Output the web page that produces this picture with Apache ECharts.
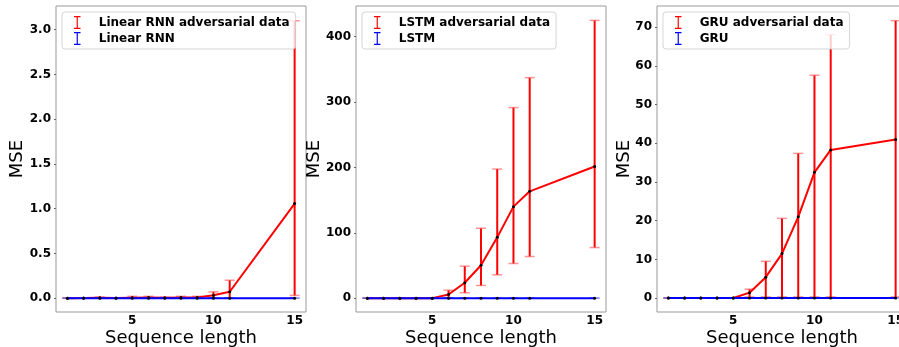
<!DOCTYPE html>
<html>
<head>
<meta charset="utf-8">
<script src="https://cdn.jsdelivr.net/npm/echarts@6/dist/echarts.min.js"></script>
<style>
  html, body { margin: 0; padding: 0; background: #fff; }
  #chart { width: 899px; height: 347px; }
</style>
</head>
<body>
<div id="chart"></div>
<script>
// sequence lengths used in every panel
const seqLen = [1, 2, 3, 4, 5, 6, 7, 8, 9, 10, 11, 15];

// Linear RNN
const rnnAdvMean = [0.0, 0.001, 0.004, 0.002, 0.005, 0.006, 0.004, 0.006, 0.008, 0.033, 0.071, 1.057];
const rnnAdvLow  = [0, 0, 0, 0, 0, 0, 0, 0, 0, 0, 0, 0.03];
const rnnAdvHigh = [0.001, 0.003, 0.012, 0.004, 0.02, 0.02, 0.01, 0.02, 0.02, 0.07, 0.2, 3.10];
const rnnMean    = [0, 0, 0, 0, 0, 0, 0, 0, 0, 0, 0, 0];
const rnnLow     = [0, 0, 0, 0, 0, 0, 0, 0, 0, 0, 0, 0];
const rnnHigh    = [0.001, 0.001, 0.001, 0.001, 0.001, 0.001, 0.001, 0.001, 0.001, 0.001, 0.001, 0.001];

// LSTM
const lstmAdvMean = [0, 0, 0, 0, 0, 5.6, 23.5, 50.4, 93, 140, 163.4, 201.5];
const lstmAdvLow  = [0, 0, 0, 0, 0, 0, 8.2, 19.4, 35.7, 53, 63.7, 77.4];
const lstmAdvHigh = [0, 0, 0, 0, 0, 12.2, 48.9, 106.9, 197.5, 291.6, 337.4, 425];
const lstmMean    = [0, 0, 0, 0, 0, 0, 0, 0, 0, 0, 0, 0];
const lstmLow     = [0, 0, 0, 0, 0, 0, 0, 0, 0, 0, 0, 0];
const lstmHigh    = [0.2, 0.2, 0.2, 0.2, 0.2, 0.2, 0.2, 0.2, 0.2, 0.2, 0.2, 0.2];

// GRU
const gruAdvMean = [0, 0, 0, 0, 0, 1.4, 5.4, 11.5, 21.0, 32.5, 38.3, 41.0];
const gruAdvLow  = [0, 0, 0, 0, 0, 0.3, 0.3, 0.3, 0.3, 0.3, 0.3, 0.3];
const gruAdvHigh = [0, 0, 0, 0, 0, 2.3, 9.5, 20.6, 37.4, 57.6, 68.1, 71.7];
const gruMean    = [0, 0, 0, 0, 0, 0, 0, 0, 0, 0, 0, 0];
const gruLow     = [0, 0, 0, 0, 0, 0, 0, 0, 0, 0, 0, 0];
const gruHigh    = [0.05, 0.05, 0.05, 0.05, 0.05, 0.05, 0.05, 0.05, 0.05, 0.05, 0.05, 0.05];

const xTicks = [5, 10, 15];
const rnnTicks = [0, 0.5, 1.0, 1.5, 2.0, 2.5, 3.0];
const lstmTicks = [0, 100, 200, 300, 400];
const gruTicks = [0, 10, 20, 30, 40, 50, 60, 70];

const panels = [
  { left: 56, name: 'Linear RNN', adv: [rnnAdvMean, rnnAdvLow, rnnAdvHigh], clean: [rnnMean, rnnLow, rnnHigh],
    ymin: -0.155, ymax: 3.265, ticks: rnnTicks, dec: 1, nameGap: 30 },
  { left: 356, name: 'LSTM', adv: [lstmAdvMean, lstmAdvLow, lstmAdvHigh], clean: [lstmMean, lstmLow, lstmHigh],
    ymin: -21.2, ymax: 447, ticks: lstmTicks, dec: 0, nameGap: 33 },
  { left: 657, name: 'GRU', adv: [gruAdvMean, gruAdvLow, gruAdvHigh], clean: [gruMean, gruLow, gruHigh],
    ymin: -3.6, ymax: 75.5, ticks: gruTicks, dec: 0, nameGap: 24 }
];

const FONT = 'DejaVu Sans';
const errIcon = 'path://M0,0 L10,0 L10,1.8 L5.9,1.8 L5.9,18.2 L10,18.2 L10,20 L0,20 L0,18.2 L4.1,18.2 L4.1,1.8 L0,1.8 Z';

function errorSeries(idx, name, lows, highs, color, capColor, z) {
  return {
    name: name,
    type: 'custom',
    xAxisIndex: idx,
    yAxisIndex: idx,
    z: z,
    clip: false,
    data: seqLen.map((x, i) => [x, lows[i], highs[i]]),
    renderItem: function (params, api) {
      const lo = api.coord([api.value(0), api.value(1)]);
      const hi = api.coord([api.value(0), api.value(2)]);
      const w = 5;
      return {
        type: 'group',
        children: [
          { type: 'line', shape: { x1: lo[0], y1: lo[1], x2: hi[0], y2: hi[1] },
            style: { stroke: color, lineWidth: 2 } },
          { type: 'line', shape: { x1: hi[0] - w, y1: hi[1], x2: hi[0] + w, y2: hi[1] },
            style: { stroke: capColor, lineWidth: 1.5 } },
          { type: 'line', shape: { x1: lo[0] - w, y1: lo[1], x2: lo[0] + w, y2: lo[1] },
            style: { stroke: capColor, lineWidth: 1.5 } }
        ]
      };
    }
  };
}

function lineSeries(idx, name, values, color, z) {
  return {
    name: name,
    type: 'line',
    xAxisIndex: idx,
    yAxisIndex: idx,
    z: z,
    data: seqLen.map((x, i) => [x, values[i]]),
    symbol: 'circle',
    symbolSize: 3,
    showSymbol: true,
    itemStyle: { color: '#000', borderWidth: 0 },
    lineStyle: { color: color, width: 2 },
    animation: false
  };
}

const grid = [], xAxis = [], yAxis = [], series = [], legend = [];

panels.forEach((p, i) => {
  grid.push({ left: p.left, top: 6, width: 250, height: 306, show: true, borderColor: '#999', borderWidth: 1,
    outerBoundsMode: 'none', containLabel: false });
  xAxis.push({
    type: 'value', gridIndex: i, min: 0.3, max: 15.7,
    name: 'Sequence length', nameLocation: 'middle', nameGap: 17, nameMoveOverlap: false,
    nameTextStyle: { fontFamily: FONT, fontSize: 18, color: '#000', verticalAlign: 'top' },
    axisLine: { show: false }, splitLine: { show: false },
    axisTick: { show: false, customValues: xTicks },
    axisLabel: { customValues: xTicks, fontFamily: FONT, fontWeight: 'bold', fontSize: 12, color: '#000', margin: 3 }
  });
  yAxis.push({
    type: 'value', gridIndex: i, min: p.ymin, max: p.ymax,
    name: 'MSE', nameLocation: 'middle', nameGap: p.nameGap, nameRotate: 90, nameMoveOverlap: false,
    nameTextStyle: { fontFamily: FONT, fontSize: 18, color: '#000' },
    axisLine: { show: false }, splitLine: { show: false },
    axisTick: { show: true, length: 2, customValues: p.ticks, lineStyle: { color: '#666' } },
    axisLabel: { customValues: p.ticks, fontFamily: FONT, fontWeight: 'bold', fontSize: 12, color: '#000', margin: 5,
      formatter: v => v.toFixed(p.dec) }
  });
  const advName = p.name + ' adversarial data';
  series.push(errorSeries(i, advName, p.adv[1], p.adv[2], '#ff0000', 'rgba(255,60,60,0.55)', 2));
  series.push(lineSeries(i, advName, p.adv[0], '#ff0000', 3));
  series.push(errorSeries(i, p.name, p.clean[1], p.clean[2], '#0000ff', 'rgba(80,80,255,0.45)', 4));
  series.push(lineSeries(i, p.name, p.clean[0], '#0000ff', 5));
  legend.push({
    data: [
      { name: advName, icon: errIcon, itemStyle: { color: '#ff0000' } },
      { name: p.name, icon: errIcon, itemStyle: { color: '#0000ff' } }
    ],
    orient: 'vertical', left: p.left + 6, top: 12,
    itemWidth: 9, itemHeight: 13, itemGap: 3,
    padding: [4, 6, 4, 12],
    backgroundColor: 'rgba(255,255,255,0.8)', borderColor: 'rgba(204,204,204,0.8)', borderWidth: 1, borderRadius: 3,
    selectedMode: false,
    textStyle: { fontFamily: FONT, fontWeight: 'bold', fontSize: 12, color: '#000', padding: [0, 0, 0, 12] }
  });
});

const chart = echarts.init(document.getElementById('chart'));
chart.setOption({
  animation: false,
  backgroundColor: '#fff',
  grid: grid,
  xAxis: xAxis,
  yAxis: yAxis,
  legend: legend,
  series: series
});
</script>
</body>
</html>
